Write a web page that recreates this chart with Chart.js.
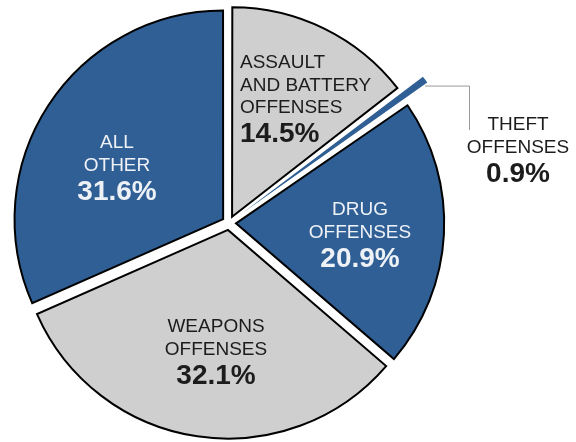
<!DOCTYPE html>
<html>
<head>
<meta charset="utf-8">
<script src="https://cdn.jsdelivr.net/npm/chart.js@4"></script>
<style>
  html, body { margin: 0; padding: 0; background: #ffffff; }
  #wrap { width: 576px; height: 442px; }
</style>
</head>
<body>
<div id="wrap"><canvas id="graf" width="576" height="442"></canvas></div>
<script>
// categories and shares, clockwise from 12 o'clock
var categories = ["ASSAULT AND BATTERY OFFENSES", "THEFT OFFENSES", "DRUG OFFENSES", "WEAPONS OFFENSES", "ALL OTHER"];
var shares = [14.5, 0.9, 20.9, 32.1, 31.6];
var labelLines = [["ASSAULT", "AND BATTERY", "OFFENSES"], ["THEFT", "OFFENSES"], ["DRUG", "OFFENSES"], ["WEAPONS", "OFFENSES"], ["ALL", "OTHER"]];

var BLUE = "#2f5f94";
var GRAY = "#cfcfcf";
var sliceColors = [GRAY, BLUE, BLUE, GRAY, BLUE];
var textColors = ["#1c1c1c", "#1c1c1c", "#eef2f7", "#1c1c1c", "#eef2f7"];

// where each label block sits, relative to the pie centre
var spots = [
  {dx: 11, dy: -155, align: "left"},
  {dx: 289, dy: -93, align: "center"},
  {dx: 131, dy: -8, align: "center"},
  {dx: -13, dy: 109, align: "center"},
  {dx: -112, dy: -75, align: "center"}
];

var sliceLabels = {
  id: "sliceLabels",
  afterDatasetsDraw: function(chart) {
    var ctx = chart.ctx;
    var meta = chart.getDatasetMeta(0);
    var cx = meta.data[0].x, cy = meta.data[0].y;

    // leader line for the thin theft slice
    var arc = meta.data[1];
    var mid = (arc.startAngle + arc.endAngle) / 2;
    var t = arc.options.offset / 4;
    var fix = 1 - Math.sin(Math.min(Math.PI, arc.circumference));
    var reach = arc.outerRadius + t + t * fix;
    var tipX = cx + Math.cos(mid) * reach, tipY = cy + Math.sin(mid) * reach;
    ctx.save();
    ctx.strokeStyle = "#9a9a9a";
    ctx.lineWidth = 1;
    ctx.beginPath();
    ctx.moveTo(tipX, tipY + 6.5);
    ctx.lineTo(cx + 240.5, tipY + 6.5);
    ctx.lineTo(cx + 240.5, cy - 93);
    ctx.stroke();
    ctx.restore();

    ctx.save();
    ctx.textBaseline = "alphabetic";
    for (var i = 0; i < shares.length; i++) {
      var s = spots[i];
      var x = cx + s.dx, y = cy + s.dy;
      ctx.textAlign = s.align;
      ctx.fillStyle = textColors[i];
      ctx.font = "19px 'Liberation Sans', Arial, sans-serif";
      labelLines[i].forEach(function(line, k) {
        ctx.fillText(line, x, y + k * 22.5);
      });
      ctx.font = "bold 28px 'Liberation Sans', Arial, sans-serif";
      ctx.fillText(shares[i].toFixed(1) + "%", x, y + (labelLines[i].length - 1) * 22.5 + 29);
    }
    ctx.restore();
  }
};

new Chart(document.getElementById("graf"), {
  type: "pie",
  data: {
    labels: categories,
    datasets: [{
      data: shares,
      backgroundColor: sliceColors,
      borderColor: "#000000",
      borderWidth: [2, 0, 2, 2, 2],
      borderJoinStyle: "miter",
      offset: [28, 72, 28, 28, 28]
    }]
  },
  options: {
    responsive: false,
    animation: false,
    radius: 208,
    layout: {padding: {left: 0, right: 118, top: 4, bottom: 0}},
    plugins: {
      legend: {display: false},
      tooltip: {enabled: false}
    }
  },
  plugins: [sliceLabels]
});
</script>
</body>
</html>
